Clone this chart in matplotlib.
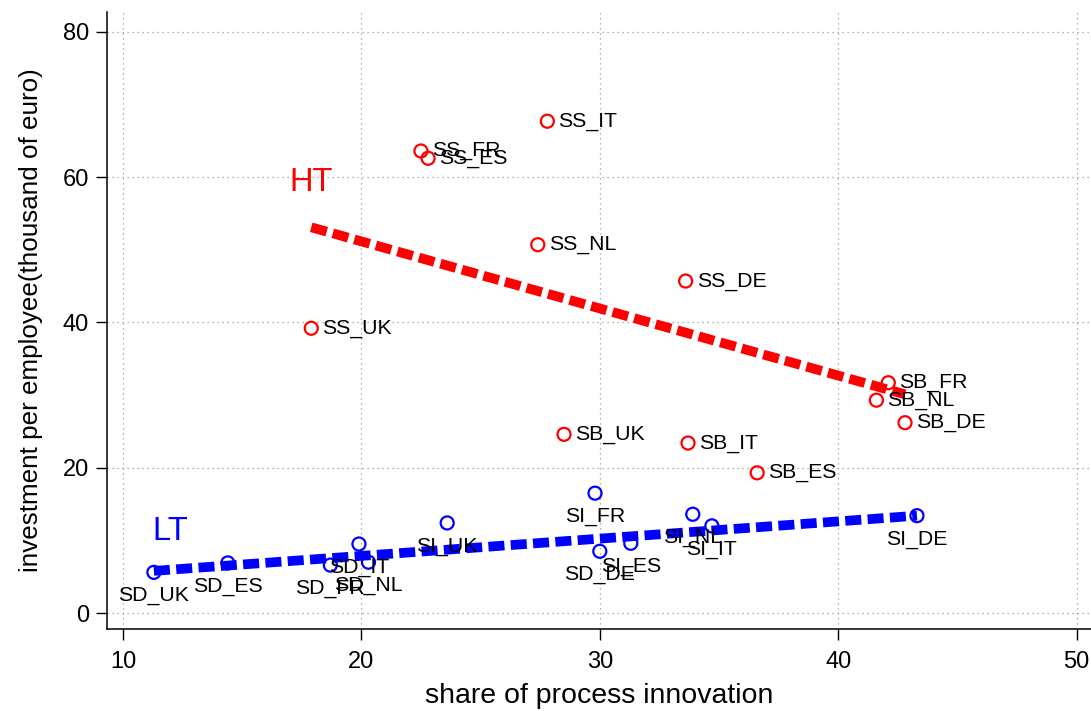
import numpy as np
import matplotlib
matplotlib.use("Agg")
import matplotlib.pyplot as plt

plt.rcParams['font.family'] = ['Liberation Sans', 'DejaVu Sans']

# High-tech sectors
ht_labels = ["SS_IT", "SS_FR", "SS_ES", "SS_NL", "SS_DE", "SS_UK",
             "SB_FR", "SB_NL", "SB_DE", "SB_UK", "SB_IT", "SB_ES"]
ht_x = [27.8, 22.5, 22.8, 27.4, 33.6, 17.9, 42.1, 41.6, 42.8, 28.5, 33.7, 36.6]
ht_y = [67.7, 63.6, 62.6, 50.7, 45.7, 39.2, 31.7, 29.3, 26.2, 24.6, 23.4, 19.3]
# fitted values at the ends of the high-tech range
ht_fit_y = [53.1, 30.1]

# Low-tech sectors
lt_labels = ["SD_UK", "SD_ES", "SD_FR", "SD_IT", "SD_NL", "SI_UK",
             "SI_FR", "SD_DE", "SI_ES", "SI_NL", "SI_IT", "SI_DE"]
lt_x = [11.3, 14.4, 18.7, 19.9, 20.3, 23.6, 29.8, 30.0, 31.3, 33.9, 34.7, 43.3]
lt_y = [5.6, 6.9, 6.6, 9.5, 7.0, 12.4, 16.5, 8.5, 9.6, 13.6, 12.0, 13.4]
# fitted values at the ends of the low-tech range
lt_fit_y = [5.8, 13.4]

x_ticks = [10, 20, 30, 40, 50]
y_ticks = [0, 20, 40, 60, 80]

fig = plt.figure(figsize=(10.91, 7.11), dpi=100)
ax = fig.add_axes([0.098, 0.1153, 0.902, 0.868])

ax.set_xlim(9.33, 50.6)
ax.set_ylim(-2.2, 82.75)

# fitted lines over each group's observed range
for xs, fy, col in [(ht_x, ht_fit_y, 'red'), (lt_x, lt_fit_y, 'blue')]:
    ax.plot([min(xs), max(xs)], fy, color=col, lw=7, ls=(0, (1.65, 0.65)),
            solid_capstyle='butt', dash_capstyle='butt', zorder=2)

ax.scatter(ht_x, ht_y, s=88, facecolors='none', edgecolors='red',
           linewidths=1.6, zorder=3)
ax.scatter(lt_x, lt_y, s=88, facecolors='none', edgecolors='blue',
           linewidths=1.6, zorder=3)

for lab, x, y in zip(ht_labels, ht_x, ht_y):
    ax.annotate(lab, (x, y), xytext=(8, 0), textcoords='offset points',
                ha='left', va='center', fontsize=15.3, color='black', zorder=4)
for lab, x, y in zip(lt_labels, lt_x, lt_y):
    ax.annotate(lab, (x, y), xytext=(0, -17), textcoords='offset points',
                ha='center', va='center', fontsize=15.3, color='black', zorder=4)

ax.text(17.9, 59.3, "HT", color='red', fontsize=23.5, ha='center', va='center')
ax.text(12.0, 11.2, "LT", color='blue', fontsize=23.5, ha='center', va='center')

ax.set_xticks(x_ticks)
ax.set_yticks(y_ticks)
ax.grid(True, color='#999999', ls=(0, (1, 3)), lw=0.9)
ax.set_axisbelow(True)
ax.tick_params(axis='both', direction='out', length=8, width=1, labelsize=17)
ax.tick_params(axis='x', pad=8)
ax.tick_params(axis='y', pad=5)

for s in ['top', 'right']:
    ax.spines[s].set_visible(False)
for s in ['left', 'bottom']:
    ax.spines[s].set_linewidth(1.1)

ax.set_xlabel("share of process innovation", fontsize=20.5, labelpad=7)
ax.set_ylabel("investment per employee(thousand of euro)", fontsize=18.7, labelpad=14)

fig.savefig("out.png", dpi=100)
